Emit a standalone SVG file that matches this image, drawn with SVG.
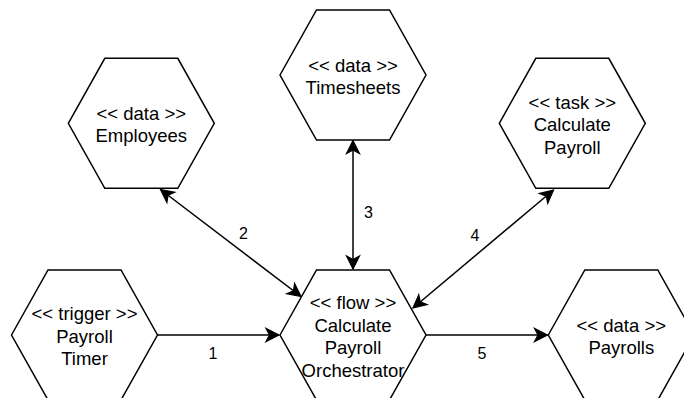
<svg xmlns="http://www.w3.org/2000/svg" width="684" height="398" viewBox="0 0 684 398">
  <style>
    .hex { fill: #ffffff; stroke: #000000; stroke-width: 1.5; stroke-linejoin: miter; }
    .lbl { font-family: "Liberation Sans", Arial, Helvetica, sans-serif; font-size: 18.5px; fill: #000000; text-anchor: middle; }
    .num { font-family: "Liberation Sans", Arial, Helvetica, sans-serif; font-size: 16px; fill: #000000; text-anchor: middle; }
    .edge { fill: none; stroke: #000000; stroke-width: 1.5; }
  </style>
  <defs>
    <!-- hexagon 146 x 130, centred on the origin -->
    <polygon id="hexShape" points="-73,0 -36.5,-65 36.5,-65 73,0 36.5,65 -36.5,65"/>
    <marker id="arrow" markerUnits="userSpaceOnUse" markerWidth="20" markerHeight="20" refX="0" refY="0" viewBox="-16 -10 20 20" orient="auto-start-reverse" overflow="visible">
      <path d="M0,0 L-13,-6.5 L-9.5,0 L-13,6.5 Z" fill="#000000" stroke="#000000" stroke-width="1.2" stroke-linejoin="miter"/>
    </marker>
  </defs>

  <rect width="684" height="398" fill="#ffffff"/>

  <g id="connectors">
    <line class="edge" x1="157.3" y1="335" x2="279" y2="335" marker-end="url(#arrow)"/>
    <line class="edge" x1="160.5" y1="189.5" x2="301" y2="296.5" marker-start="url(#arrow)" marker-end="url(#arrow)"/>
    <line class="edge" x1="353" y1="140.5" x2="353" y2="269" marker-start="url(#arrow)" marker-end="url(#arrow)"/>
    <line class="edge" x1="553.5" y1="190" x2="413" y2="308" marker-start="url(#arrow)" marker-end="url(#arrow)"/>
    <line class="edge" x1="426" y1="335" x2="547.5" y2="335" marker-end="url(#arrow)"/>
    <text class="num" x="213" y="359">1</text>
    <text class="num" x="243.5" y="239">2</text>
    <text class="num" x="368.5" y="217.5">3</text>
    <text class="num" x="475" y="240.5">4</text>
    <text class="num" x="482" y="359">5</text>
  </g>

  <g id="payroll-timer">
    <use href="#hexShape" class="hex" transform="translate(84.5,335)"/>
    <text class="lbl" x="84.5" y="320">&lt;&lt; trigger &gt;&gt;</text>
    <text class="lbl" x="84.5" y="342.5">Payroll</text>
    <text class="lbl" x="84.5" y="365">Timer</text>
  </g>

  <g id="employees">
    <use href="#hexShape" class="hex" transform="translate(141.3,123.3)"/>
    <text class="lbl" x="141.3" y="119.5">&lt;&lt; data &gt;&gt;</text>
    <text class="lbl" x="141.3" y="142">Employees</text>
  </g>

  <g id="timesheets">
    <use href="#hexShape" class="hex" transform="translate(353,75)"/>
    <text class="lbl" x="353" y="71.5">&lt;&lt; data &gt;&gt;</text>
    <text class="lbl" x="353" y="94">Timesheets</text>
  </g>

  <g id="calculate-payroll">
    <use href="#hexShape" class="hex" transform="translate(572.3,123.3)"/>
    <text class="lbl" x="572.3" y="108.5">&lt;&lt; task &gt;&gt;</text>
    <text class="lbl" x="572.3" y="131">Calculate</text>
    <text class="lbl" x="572.3" y="153.5">Payroll</text>
  </g>

  <g id="orchestrator">
    <use href="#hexShape" class="hex" transform="translate(353,335)"/>
    <text class="lbl" x="353" y="309">&lt;&lt; flow &gt;&gt;</text>
    <text class="lbl" x="353" y="331.5">Calculate</text>
    <text class="lbl" x="353" y="354">Payroll</text>
    <text class="lbl" x="353" y="376.5">Orchestrator</text>
  </g>

  <g id="payrolls">
    <use href="#hexShape" class="hex" transform="translate(621.3,335)"/>
    <text class="lbl" x="621.3" y="331.5">&lt;&lt; data &gt;&gt;</text>
    <text class="lbl" x="621.3" y="354">Payrolls</text>
  </g>
</svg>
